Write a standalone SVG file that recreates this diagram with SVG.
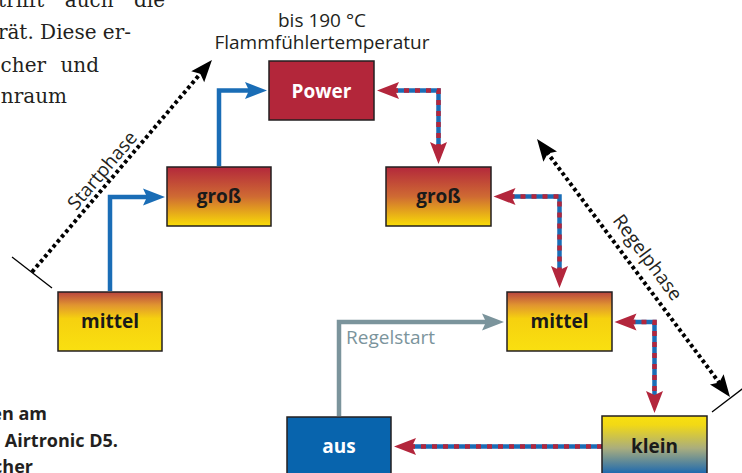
<svg xmlns="http://www.w3.org/2000/svg" width="742" height="473" viewBox="0 0 742 473">
<style>
.box{stroke:#231f20;stroke-width:1.5}
.lbl{font-family:"Open Sans","Noto Sans",sans-serif;font-size:19px;font-weight:700;text-anchor:middle;fill:#1a1a1a}
.wlbl{fill:#ffffff}
.cap{font-family:"Open Sans","Noto Sans",sans-serif;font-size:19px;fill:#231f20}
.body{font-family:"DejaVu Serif",serif;font-size:20px;fill:#231f20;text-anchor:end}
.bodyb{font-family:"Open Sans","Noto Sans",sans-serif;font-size:18px;font-weight:700;fill:#231f20}
.blue{fill:none;stroke:#1a6db6;stroke-width:4.5}
.rdash{fill:none;stroke:#b3263c;stroke-width:4.5;stroke-dasharray:5 6}
.gray{fill:none;stroke:#7b949c;stroke-width:4.5}
.dot{fill:none;stroke:#000;stroke-width:4;stroke-dasharray:3.5 3}
.tick{stroke:#000;stroke-width:1.3}
</style>
<defs>
<linearGradient id="gGross" x1="0" y1="0" x2="0" y2="1">
<stop offset="0" stop-color="#b3283b"/><stop offset="0.5" stop-color="#cf6a33"/><stop offset="1" stop-color="#f9dd06"/>
</linearGradient>
<linearGradient id="gMittel" x1="0" y1="0" x2="0" y2="1">
<stop offset="0" stop-color="#b9443f"/><stop offset="0.22" stop-color="#e09430"/><stop offset="0.45" stop-color="#f6d10f"/><stop offset="1" stop-color="#f9e010"/>
</linearGradient>
<linearGradient id="gKlein" x1="0" y1="0" x2="0" y2="1">
<stop offset="0" stop-color="#f9e00e"/><stop offset="0.15" stop-color="#f2d915"/><stop offset="0.55" stop-color="#a9ad7e"/><stop offset="1" stop-color="#1565b2"/>
</linearGradient>
<marker id="mBlue" markerUnits="userSpaceOnUse" viewBox="-20 -20 40 40" markerWidth="40" markerHeight="40" refX="0" refY="0" orient="auto-start-reverse">
<path d="M16,0 L-6,-8.5 L-2,0 L-6,8.5 Z" fill="#1a6db6"/>
</marker>
<marker id="mRed" markerUnits="userSpaceOnUse" viewBox="-20 -20 40 40" markerWidth="40" markerHeight="40" refX="0" refY="0" orient="auto-start-reverse">
<path d="M16,0 L-6,-8.5 L-2,0 L-6,8.5 Z" fill="#b3263c"/>
</marker>
<marker id="mGray" markerUnits="userSpaceOnUse" viewBox="-20 -20 40 40" markerWidth="40" markerHeight="40" refX="0" refY="0" orient="auto-start-reverse">
<path d="M16,0 L-6,-8.5 L-2,0 L-6,8.5 Z" fill="#7b949c"/>
</marker>
<marker id="mBlack" markerUnits="userSpaceOnUse" viewBox="-20 -20 40 40" markerWidth="40" markerHeight="40" refX="0" refY="0" orient="auto-start-reverse">
<path d="M16,0 L-6,-8.5 L-2,0 L-6,8.5 Z" fill="#000"/>
</marker>
</defs>

<g id="bodytext">
<text class="body" x="165" y="7" word-spacing="14">trifft auch die</text>
<text class="body" x="131" y="39">rät. Diese er-</text>
<text class="body" x="99" y="72" word-spacing="8">cher und</text>
<text class="body" x="67" y="103">nraum</text>
<text class="bodyb" x="47" y="420" text-anchor="end">en am</text>
<text class="bodyb" x="118" y="447" text-anchor="end">Airtronic D5.</text>
<text class="bodyb" x="33" y="473" text-anchor="end">cher</text>
</g>

<g id="phases">
<path class="dot" d="M32,272 L201.6,72.2" marker-end="url(#mBlack)"/>
<line class="tick" x1="12" y1="257" x2="52" y2="288"/>
<text class="cap" transform="translate(111,178) rotate(-49.7)" x="0" y="-5" text-anchor="middle">Startphase</text>
<path class="dot" d="M546.6,151.8 L720.4,384.2" marker-start="url(#mBlack)" marker-end="url(#mBlack)"/>
<line class="tick" x1="712" y1="412" x2="750" y2="383"/>
<text class="cap" transform="translate(636,266) rotate(53.2)" x="0" y="-8" text-anchor="middle">Regelphase</text>
</g>

<g id="connectors">
<path class="blue" d="M110,291 V197 H149" marker-end="url(#mBlue)"/>
<path class="blue" d="M219,166 V90.5 H251" marker-end="url(#mBlue)"/>
<path class="gray" d="M339,416 V322 H488" marker-end="url(#mGray)"/>
<path class="blue" d="M393,90.5 H438.5 V148"/>
<path class="rdash" d="M393,90.5 H438.5 V148" marker-start="url(#mRed)" marker-end="url(#mRed)"/>
<path class="blue" d="M509.5,196.5 H559.5 V272"/>
<path class="rdash" d="M509.5,196.5 H559.5 V272" marker-start="url(#mRed)" marker-end="url(#mRed)"/>
<path class="blue" d="M630.5,322 H654.5 V397"/>
<path class="rdash" d="M630.5,322 H654.5 V397" marker-start="url(#mRed)" marker-end="url(#mRed)"/>
<path class="blue" d="M602,446.5 H410"/>
<path class="rdash" d="M602,446.5 H410" marker-end="url(#mRed)"/>
<text class="cap" x="346" y="344" style="fill:#7b949c">Regelstart</text>
</g>

<g id="title">
<text class="cap" x="322" y="27" text-anchor="middle">bis 190 °C</text>
<text class="cap" x="322" y="49" text-anchor="middle">Flammfühlertemperatur</text>
</g>

<g id="power">
<rect class="box" x="269" y="61" width="105" height="59" fill="#b3263a"/>
<text class="lbl wlbl" x="321.5" y="97.5">Power</text>
</g>
<g id="gross-start">
<rect class="box" x="167" y="167" width="104" height="59" fill="url(#gGross)"/>
<text class="lbl" x="219" y="203">groß</text>
</g>
<g id="mittel-start">
<rect class="box" x="58" y="292" width="104" height="59" fill="url(#gMittel)"/>
<text class="lbl" x="110" y="327.5">mittel</text>
</g>
<g id="gross-regel">
<rect class="box" x="386" y="167" width="105" height="59" fill="url(#gGross)"/>
<text class="lbl" x="438.5" y="203">groß</text>
</g>
<g id="mittel-regel">
<rect class="box" x="507" y="292" width="105" height="59" fill="url(#gMittel)"/>
<text class="lbl" x="559.5" y="327.5">mittel</text>
</g>
<g id="klein">
<rect class="box" x="602" y="416" width="105" height="59" fill="url(#gKlein)"/>
<text class="lbl" x="654.5" y="452.5">klein</text>
</g>
<g id="aus">
<rect class="box" x="287" y="417" width="104" height="59" fill="#0864ad"/>
<text class="lbl wlbl" x="339" y="452.5">aus</text>
</g>
</svg>
